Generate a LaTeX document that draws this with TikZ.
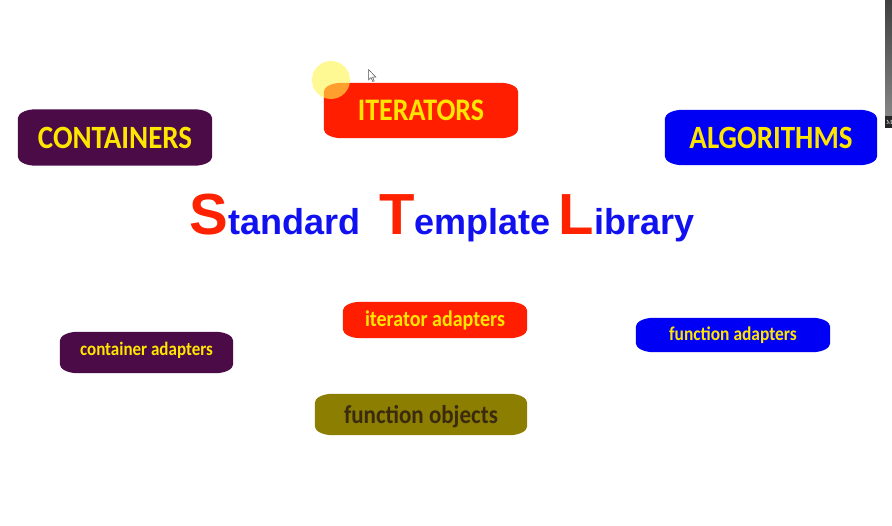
\documentclass[tikz,border=0pt]{standalone}
\usepackage{fontspec}
\newfontfamily\boxfont{Carlito}
\newfontfamily\titlefont{Liberation Sans}
\usetikzlibrary{backgrounds}

\definecolor{stlpurple}{HTML}{4B0B47}
\definecolor{stlred}{HTML}{FF1E00}
\definecolor{stlblue}{HTML}{0000F5}
\definecolor{stlolive}{HTML}{8C7E00}
\definecolor{stlyellow}{HTML}{FFE600}
\definecolor{stlbrown}{HTML}{3A2A10}
\definecolor{titlered}{HTML}{FF2200}
\definecolor{titleblue}{HTML}{1010F0}

% filled box with flattened elliptical corners behind a named node
\newcommand\pillbg[2]{%
  \fill[#2]
    ([xshift=18pt]#1.north west) -- ([xshift=-18pt]#1.north east)
    arc[start angle=90,end angle=0,x radius=18pt,y radius=9pt]
    -- ([yshift=9pt]#1.south east)
    arc[start angle=0,end angle=-90,x radius=18pt,y radius=9pt]
    -- ([xshift=18pt]#1.south west)
    arc[start angle=270,end angle=180,x radius=18pt,y radius=9pt]
    -- ([yshift=-9pt]#1.north west)
    arc[start angle=180,end angle=90,x radius=18pt,y radius=9pt]
    -- cycle;}

% box text, a little taller than the font's natural proportions
\newcommand\tallbox[1]{\scalebox{1}[1.12]{#1}}

\tikzset{
  pill/.style={inner sep=0pt, align=center, font=\boxfont\bfseries, text=stlyellow},
}

\begin{document}
\begin{tikzpicture}[x=1pt,y=-1pt]
  \useasboundingbox (0,0) rectangle (892,526);

  % main components
  \node[pill, minimum width=194pt, minimum height=56pt, font=\boxfont\bfseries\fontsize{29}{29}\selectfont]
    (containers) at (115,137.5) {\tallbox{CONTAINERS}};
  \node[pill, minimum width=194pt, minimum height=55pt, font=\boxfont\bfseries\fontsize{28}{28}\selectfont]
    (iterators) at (421,110.5) {\tallbox{ITERATORS}};
  \node[pill, minimum width=212pt, minimum height=55pt, font=\boxfont\bfseries\fontsize{29}{29}\selectfont]
    (algorithms) at (771,137.5) {\tallbox{ALGORITHMS}};

  % adapters and function objects
  \node[pill, minimum width=173pt, minimum height=41pt, text depth=7.8pt, font=\boxfont\bfseries\fontsize{17}{17}\selectfont]
    (contadapt) at (146.5,352.5) {\tallbox{container adapters}};
  \node[pill, minimum width=184pt, minimum height=36pt, font=\boxfont\bfseries\fontsize{20}{20}\selectfont]
    (itadapt) at (435,320) {\tallbox{iterator adapters}};
  \node[pill, minimum width=194pt, minimum height=34pt, font=\boxfont\bfseries\fontsize{17.4}{17.4}\selectfont]
    (funcadapt) at (733,335) {\tallbox{function adapters}};
  \node[pill, minimum width=212pt, minimum height=41pt, text height=23.3pt, text=stlbrown, font=\boxfont\bfseries\fontsize{23}{23}\selectfont]
    (funcobj) at (421,414.5) {\tallbox{function objects}};

  \begin{scope}[on background layer]
    \fill[white] (0,0) rectangle (892,526);
    \pillbg{containers}{stlpurple}
    \pillbg{iterators}{stlred}
    \pillbg{algorithms}{stlblue}
    \pillbg{contadapt}{stlpurple}
    \pillbg{itadapt}{stlred}
    \pillbg{funcadapt}{stlblue}
    \pillbg{funcobj}{stlolive}
  \end{scope}

  % title
  \node[anchor=base, inner sep=0pt, font=\titlefont\bfseries] (title) at (442,235)
    {\textcolor{titlered}{\fontsize{58}{58}\selectfont S}%
     \textcolor{titleblue}{\fontsize{36}{36}\selectfont tandard}\hspace{19pt}%
     \textcolor{titlered}{\fontsize{58}{58}\selectfont T}%
     \textcolor{titleblue}{\fontsize{36}{36}\selectfont emplate}\hspace{8pt}%
     \textcolor{titlered}{\fontsize{58}{58}\selectfont L}%
     \textcolor{titleblue}{\fontsize{36}{36}\selectfont ibrary}};

  % pointer highlight and mouse pointer
  \fill[yellow!70!white, opacity=0.6] (331,80) circle[radius=19pt];
  \filldraw[fill=white, draw=black!70, line width=0.5pt]
    (368.5,69.5) -- (368.5,80) -- (371,77.6) -- (372.8,81.5) -- (374.2,80.9)
    -- (372.5,77.1) -- (375.8,77.1) -- cycle;

  % edge of a video panel at the right border
  \shade[top color=black!75, bottom color=black!45] (885,0) rectangle (892,128);
  \fill[black!85] (885,116) rectangle (892,128);
  \node[text=white, font=\fontsize{6}{6}\selectfont, inner sep=0pt, anchor=west] (panel) at (886,122) {M};
\end{tikzpicture}
\end{document}
